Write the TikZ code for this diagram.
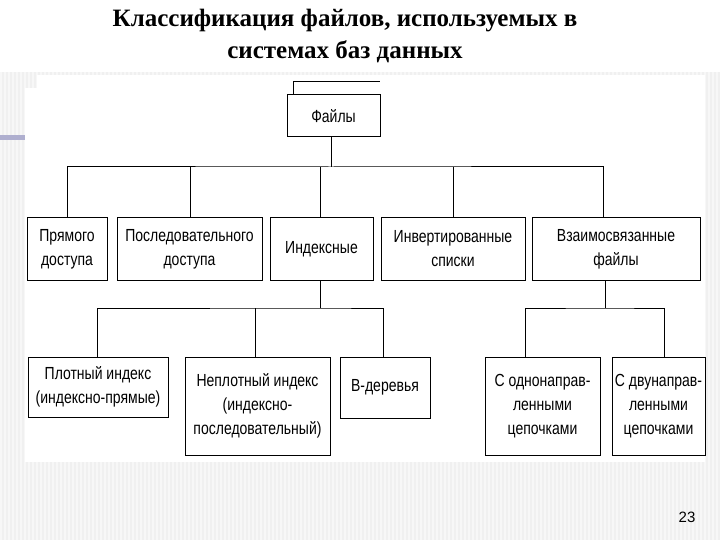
\documentclass[tikz,border=0pt]{standalone}
\usepackage{fontspec}
\setmainfont{Liberation Serif}
\newfontfamily\narrowsf[FakeStretch=0.8]{Liberation Sans}
\begin{document}
\begin{tikzpicture}[x=1pt,y=-1pt,
  bx/.style={draw,line width=1pt,fill=white,align=center,inner sep=0pt,font=\narrowsf\fontsize{17.5}{24}\selectfont},
  ln/.style={line width=1pt}]
\useasboundingbox (0,0) rectangle (720,540);
\fill[gray!12] (0,0) rectangle (720,540);
\foreach \i in {0,4,...,716}{\fill[white,opacity=0.5] (\i,0) rectangle ++(2,540);}
\fill[white] (0,0) rectangle (720,72);
\fill[blue!25!gray!50] (0,135) rectangle (28,140);
\fill[white] (37,75) rectangle (705,88);
\fill[white] (25,88) rectangle (705,462);
\node[font=\bfseries\fontsize{25}{32}\selectfont,align=center] (title) at (345,36) {Классификация файлов, используемых в\\системах баз данных};
\node[font=\fontspec{Liberation Sans}\fontsize{15}{16}\selectfont] (pg) at (687,517) {23};
% boxes
\node[bx,minimum width=93,minimum height=42] (f) at (333.5,116) {Файлы};
\coordinate (fa) at (293,95);
\coordinate (fb) at (293,82);
\coordinate (fc) at (380,82);
\draw[ln] (fa) -- (fb) -- (fc);
\node[bx,minimum width=80,minimum height=62] (a1) at (67,249) {Прямого\\доступа};
\node[bx,minimum width=145,minimum height=62] (a2) at (189.5,249) {Последовательного\\доступа};
\node[bx,minimum width=103,minimum height=62] (a3) at (321.5,249) {Индексные};
\node[bx,minimum width=144,minimum height=62] (a4) at (453,249) {Инвертированные\\списки};
\node[bx,minimum width=168,minimum height=62] (a5) at (616,249) {Взаимосвязанные\\файлы};
\node[bx,minimum width=140,minimum height=60] (b1) at (98,387) {Плотный индекс\\(индексно-прямые)};
\node[bx,minimum width=145,minimum height=98] (b2) at (257.5,406) {Неплотный индекс\\(индексно-\\последовательный)};
\node[bx,minimum width=90,minimum height=61] (b3) at (385,387.5) {В-деревья};
\node[bx,minimum width=115,minimum height=98] (c1) at (542.5,406) {С однонаправ-\\ленными\\цепочками};
\node[bx,minimum width=93,minimum height=98] (c2) at (658.5,406) {С двунаправ-\\ленными\\цепочками};
% connectors
\coordinate (bus1) at (331,167);
\draw[ln] (f.south -| bus1) -- (bus1);
\draw[ln] (a1.north -| 67,0) |- (bus1) -| (a5.north -| 603,0);
\draw[ln] (a2.north -| 190,0) -- (190,167);
\draw[ln] (a3.north -| 320,0) -- (320,167);
\draw[ln] (a4.north -| 453,0) -- (453,167);
\coordinate (bus2) at (320,308);
\draw[ln] (a3.south -| bus2) -- (bus2);
\draw[ln] (b1.north -| 97,0) |- (bus2) -| (b3.north -| 383,0);
\draw[ln] (b2.north -| 255,0) -- (255,308);
\coordinate (bus3) at (605,308);
\draw[ln] (a5.south -| bus3) -- (bus3);
\draw[ln] (c1.north -| 525,0) |- (bus3) -| (c2.north -| 664,0);
\end{tikzpicture}
\end{document}
